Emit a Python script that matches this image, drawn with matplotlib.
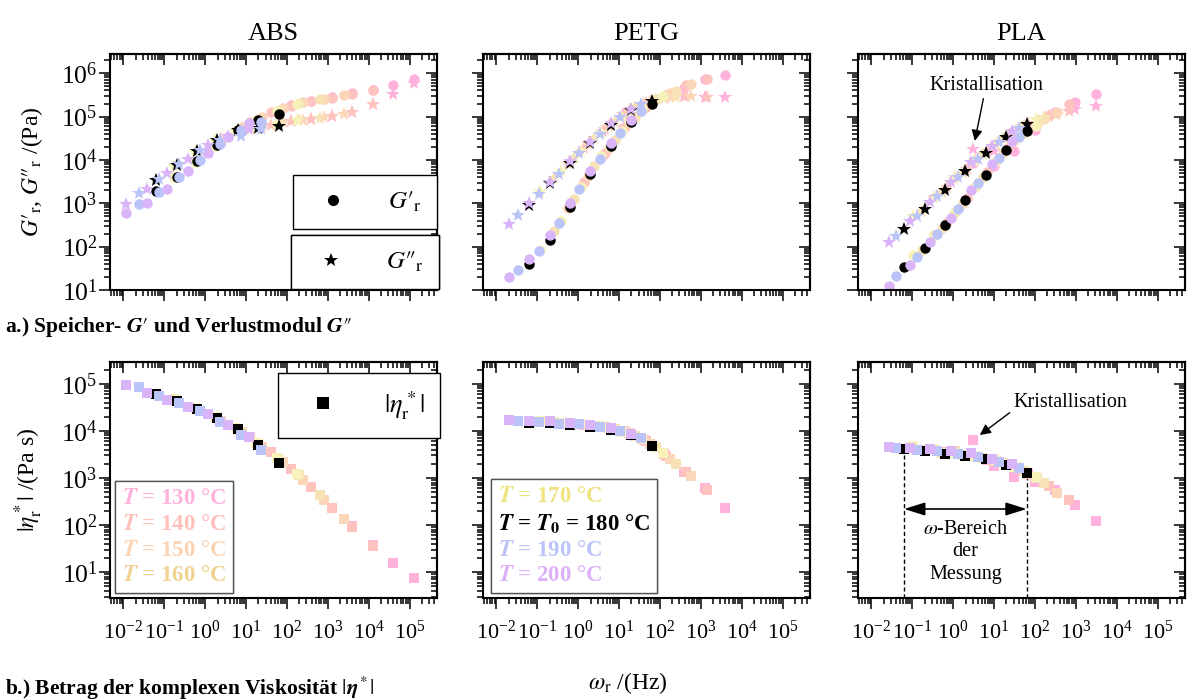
import numpy as np
import matplotlib.pyplot as plt
from matplotlib.lines import Line2D
from matplotlib.ticker import LogLocator, NullFormatter

plt.rcParams['font.family'] = ['Liberation Serif', 'DejaVu Serif']
plt.rcParams['mathtext.fontset'] = 'stix'

# measurement temperatures, T0 = 180 °C
TEMPS = [130, 140, 150, 160, 170, 180, 190, 200]
MARKER_COLORS = ['#FFB3DC', '#FFC3BF', '#FCD6B8', '#F7E2B5', '#F7F1BA', '#000000', '#BAC4F9', '#DAB4F9']
TEXT_COLORS = ['#FFB2DB', '#FFC0BC', '#FCD3B2', '#F0D291', '#EEE37E', '#000000', '#BBC3F8', '#DDB0F7']

# measured angular frequencies (2*pi * 0.01 ... 10 Hz)
OMEGA = np.array([0.0628, 0.199, 0.628, 1.99, 6.28, 19.9, 62.8])

# log10 of the shift factors a_T per temperature
ABS_LOG_AT = [3.3, 2.3, 1.6, 1.0, 0.45, 0.0, -0.43, -0.73]
PETG_LOG_AT = [1.8, 1.35, 0.95, 0.6, 0.27, 0.0, -0.27, -0.5]
PLA_LOG_AT = [1.69, 1.04, 0.74, 0.43, 0.22, 0.0, -0.19, -0.36]

# log10 of storage modulus G' (Pa), one row per temperature
ABS_LOG_GP = [
    [5.26, 5.37, 5.44, 5.54, 5.62, 5.73, 5.87],
    [4.88, 5.10, 5.25, 5.37, 5.43, 5.53, 5.61],
    [4.42, 4.76, 4.98, 5.20, 5.33, 5.41, 5.49],
    [3.97, 4.34, 4.68, 4.95, 5.14, 5.32, 5.40],
    [3.60, 3.95, 4.32, 4.67, 4.92, 5.12, 5.30],
    [3.28, 3.60, 3.97, 4.34, 4.68, 4.93, 5.06],
    [2.98, 3.27, 3.61, 4.00, 4.36, 4.68, 4.88],
    [2.77, 3.00, 3.33, 3.74, 4.15, 4.53, 4.84],
]
# log10 of loss modulus G'' (Pa)
ABS_LOG_GPP = [
    [4.90, 4.95, 5.01, 5.11, 5.30, 5.51, 5.78],
    [4.72, 4.80, 4.90, 4.95, 5.01, 5.10, 5.29],
    [4.50, 4.69, 4.76, 4.87, 4.92, 4.98, 5.06],
    [4.20, 4.47, 4.67, 4.75, 4.84, 4.92, 4.97],
    [3.87, 4.18, 4.45, 4.66, 4.74, 4.82, 4.91],
    [3.53, 3.88, 4.20, 4.47, 4.69, 4.73, 4.79],
    [3.23, 3.57, 3.90, 4.22, 4.45, 4.55, 4.72],
    [2.98, 3.32, 3.69, 4.03, 4.34, 4.55, 4.72],
]

PETG_LOG_GP = [
    [4.11, 4.74, 5.20, 5.47, 5.65, 5.86, 5.95],
    [3.48, 4.17, 4.76, 5.22, 5.50, 5.72, 5.86],
    [2.88, 3.64, 4.28, 4.86, 5.29, 5.55, 5.74],
    [2.35, 3.10, 3.85, 4.47, 5.00, 5.40, 5.60],
    [1.93, 2.60, 3.37, 4.08, 4.67, 5.17, 5.47],
    [1.59, 2.16, 2.92, 3.67, 4.31, 4.88, 5.30],
    [1.46, 1.90, 2.55, 3.32, 4.03, 4.63, 5.13],
    [1.29, 1.72, 2.26, 3.00, 3.75, 4.39, 4.92],
]
PETG_LOG_GPP = [
    [4.66, 5.05, 5.30, 5.43, 5.47, 5.46, 5.44],
    [4.27, 4.71, 5.07, 5.32, 5.44, 5.47, 5.46],
    [3.90, 4.37, 4.79, 5.14, 5.35, 5.46, 5.47],
    [3.58, 4.05, 4.50, 4.90, 5.22, 5.40, 5.46],
    [3.28, 3.74, 4.20, 4.65, 5.00, 5.30, 5.43],
    [2.97, 3.46, 3.92, 4.38, 4.80, 5.15, 5.35],
    [2.74, 3.22, 3.68, 4.16, 4.60, 4.98, 5.28],
    [2.52, 3.01, 3.50, 3.97, 4.41, 4.84, 5.17],
]

PLA_LOG_GP = [
    [3.92, 3.85, 4.20, 4.68, 5.10, 5.33, 5.52],
    [2.57, 3.13, 3.73, 4.27, 4.68, 5.03, 5.28],
    [2.27, 2.80, 3.38, 3.98, 4.48, 4.82, 5.10],
    [1.92, 2.43, 3.00, 3.60, 4.17, 4.63, 4.95],
    [1.80, 2.25, 2.78, 3.38, 3.95, 4.45, 4.78],
    [1.54, 1.98, 2.50, 3.07, 3.66, 4.22, 4.67],
    [1.32, 1.76, 2.29, 2.86, 3.47, 4.05, 4.53],
    [1.10, 1.57, 2.10, 2.67, 3.30, 3.90, 4.43],
]
PLA_LOG_GPP = [
    [4.25, 4.20, 4.45, 4.80, 5.05, 5.18, 5.24],
    [3.38, 3.80, 4.20, 4.56, 4.84, 5.02, 5.12],
    [3.15, 3.60, 4.00, 4.37, 4.70, 4.93, 5.05],
    [2.82, 3.26, 3.70, 4.13, 4.50, 4.80, 5.00],
    [2.70, 3.12, 3.55, 3.98, 4.36, 4.68, 4.95],
    [2.41, 2.86, 3.31, 3.75, 4.17, 4.53, 4.82],
    [2.25, 2.71, 3.17, 3.61, 4.03, 4.41, 4.74],
    [2.10, 2.58, 3.04, 3.50, 3.96, 4.31, 4.67],
]

MATERIALS = ['ABS', 'PETG', 'PLA']
LOG_AT = [ABS_LOG_AT, PETG_LOG_AT, PLA_LOG_AT]
LOG_GP = [ABS_LOG_GP, PETG_LOG_GP, PLA_LOG_GP]
LOG_GPP = [ABS_LOG_GPP, PETG_LOG_GPP, PLA_LOG_GPP]

XLIM = (10 ** -2.33, 10 ** 5.67)
YLIM_MOD = (10 ** 1.0, 10 ** 6.44)
YLIM_ETA = (10 ** 0.45, 10 ** 5.46)

GP_R = r"$G\prime_{\mathrm{r}}$"
GPP_R = r"$G\prime\!\prime_{\mathrm{r}}$"
ETA_R = r"$|\eta^*_{\mathrm{r}}|$"


def set_log_ticks(axis):
    axis.set_major_locator(LogLocator(base=10, numticks=20))
    axis.set_minor_locator(LogLocator(base=10, subs=np.arange(2, 10), numticks=20))
    axis.set_minor_formatter(NullFormatter())


def style_axes(ax, ylim, xlabels, ylabels):
    ax.set_xscale('log')
    ax.set_yscale('log')
    ax.set_xlim(*XLIM)
    ax.set_ylim(*ylim)
    set_log_ticks(ax.xaxis)
    set_log_ticks(ax.yaxis)
    ax.tick_params(which='both', direction='out', width=1.1)
    ax.tick_params(axis='y', pad=1, labelsize=18.5)
    ax.tick_params(axis='x', pad=8, labelsize=16)
    ax.tick_params(which='major', length=8)
    ax.tick_params(which='minor', length=4)
    ax.tick_params(labelbottom=xlabels, labelleft=ylabels)
    for sp in ax.spines.values():
        sp.set_linewidth(1.5)
    # mirrored ticks on top and right, pointing inwards
    top = ax.secondary_xaxis('top')
    right = ax.secondary_yaxis('right')
    for sec, axis in ((top, top.xaxis), (right, right.yaxis)):
        set_log_ticks(axis)
        sec.tick_params(which='both', direction='in', width=1.1, labeltop=False,
                        labelright=False, labelbottom=False, labelleft=False)
        sec.tick_params(which='major', length=8)
        sec.tick_params(which='minor', length=4)
        for sp in sec.spines.values():
            sp.set_linewidth(1.5)


fig = plt.figure(figsize=(11.89, 7.0), dpi=100)
lefts = [0.0925, 0.4062, 0.7216]
W, H = 0.2750, 0.337
axes_top = [fig.add_axes([l, 0.5857, W, H]) for l in lefts]
axes_bot = [fig.add_axes([l, 0.1457, W, H]) for l in lefts]

for m, name in enumerate(MATERIALS):
    at, at2 = axes_top[m], axes_bot[m]
    for i, temp in enumerate(TEMPS):
        w_r = OMEGA * 10.0 ** LOG_AT[m][i]
        gp = 10.0 ** np.array(LOG_GP[m][i])
        gpp = 10.0 ** np.array(LOG_GPP[m][i])
        eta = np.hypot(gp, gpp) / w_r
        c = MARKER_COLORS[i]
        at.plot(w_r, gp, ls='none', marker='o', ms=7.5, mew=0, color=c)
        at.plot(w_r, gpp, ls='none', marker='*', ms=10, mew=0, color=c)
        at2.plot(w_r, eta, ls='none', marker='s', ms=7, mew=0, color=c)
    style_axes(at, YLIM_MOD, False, m == 0)
    style_axes(at2, YLIM_ETA, True, m == 0)
    at.set_title(name, fontsize=19, pad=10)

axes_top[0].set_ylabel(GP_R + ", " + GPP_R + " /(Pa)", fontsize=17)
axes_top[0].yaxis.set_label_coords(-0.2, 0.5)
axes_bot[0].set_ylabel(ETA_R + " /(Pa s)", fontsize=17)
axes_bot[0].yaxis.set_label_coords(-0.2, 0.5)


def marker_legend(ax, marker, ms, label, anchor, fontsize, hl):
    handle = Line2D([], [], ls='none', marker=marker, ms=ms, color='black', mew=0)
    leg = ax.legend([handle], [label], loc='upper left', bbox_to_anchor=anchor,
                    borderaxespad=0, fontsize=fontsize, frameon=True, fancybox=False,
                    edgecolor='black', framealpha=1, handlelength=hl,
                    handletextpad=1.2, borderpad=0.6)
    leg.get_frame().set_linewidth(1.0)
    ax.add_artist(leg)


marker_legend(axes_top[0], 'o', 8, GP_R, (0.56, 0.487), 18, 2.0)
marker_legend(axes_top[0], '*', 10, GPP_R, (0.553, 0.233), 18, 2.0)
marker_legend(axes_bot[0], 's', 8, ETA_R, (0.514, 0.953), 19, 2.2)


def temp_legend(ax, idx, labels, anchor):
    handles = [Line2D([], [], ls='none') for _ in idx]
    leg = ax.legend(handles, labels, loc='lower left', bbox_to_anchor=anchor,
                    borderaxespad=0, prop={'size': 16.5, 'weight': 'bold'},
                    frameon=True, fancybox=False, edgecolor='#555555', framealpha=1,
                    handlelength=0, handletextpad=0, labelspacing=0.2, borderpad=0.3)
    leg.get_frame().set_linewidth(1.0)
    for txt, i in zip(leg.get_texts(), idx):
        txt.set_color(TEXT_COLORS[i])
    ax.add_artist(leg)


temp_legend(axes_bot[0], [0, 1, 2, 3],
            [r"$\mathbfit{T}$ = %d °C" % TEMPS[i] for i in range(4)], (0.015, 0.021))
temp_legend(axes_bot[1], [4, 5, 6, 7],
            [r"$\mathbfit{T}$ = 170 °C",
             r"$\mathbfit{T}$ = $\mathbfit{T}_\mathbf{0}$ = 180 °C",
             r"$\mathbfit{T}$ = 190 °C",
             r"$\mathbfit{T}$ = 200 °C"], (0.024, 0.021))

# crystallisation outlier of PLA at 130 °C
w_cr = OMEGA[0] * 10.0 ** PLA_LOG_AT[0]
gp_cr = 10.0 ** PLA_LOG_GP[0][0]
gpp_cr = 10.0 ** PLA_LOG_GPP[0][0]
eta_cr = np.hypot(gp_cr, gpp_cr) / w_cr
arrow = dict(arrowstyle='-|>', color='black', lw=1.0, mutation_scale=16, shrinkA=1, shrinkB=6)
axes_top[2].annotate('Kristallisation', xy=(w_cr, gpp_cr), xytext=(0.393, 0.869),
                     textcoords='axes fraction', ha='center', va='center', fontsize=14.5,
                     arrowprops=dict(arrow, relpos=(0.48, 0.0)))
axes_bot[2].annotate('Kristallisation', xy=(w_cr, eta_cr), xytext=(0.65, 0.83),
                     textcoords='axes fraction', ha='center', va='center', fontsize=14.5,
                     arrowprops=dict(arrow, relpos=(0.0, 0.1)))

# measured frequency window at T0
ax = axes_bot[2]
i0 = TEMPS.index(180)
gp0 = 10.0 ** np.array(PLA_LOG_GP[i0])
gpp0 = 10.0 ** np.array(PLA_LOG_GPP[i0])
eta0 = np.hypot(gp0, gpp0) / OMEGA
ax.vlines([OMEGA[0], OMEGA[-1]], YLIM_ETA[0], [eta0[0], eta0[-1]],
          colors='black', linestyles=(0, (3, 2)), lw=1.0, zorder=1)
ax.annotate('', xy=(OMEGA[-1], 219), xytext=(OMEGA[0], 219),
            arrowprops=dict(arrowstyle='<|-|>,head_length=0.8,head_width=0.25',
                            color='black', lw=1.2, mutation_scale=16, shrinkA=0, shrinkB=0))
ax.text(np.sqrt(OMEGA[0] * OMEGA[-1]), 27, "$\\omega$-Bereich\nder\nMessung",
        ha='center', va='center', fontsize=14.5, linespacing=1.25)

fig.text(5 / 1189, 1 - 327 / 700,
         r"a.) Speicher- $\mathbfit{G}\prime$ und Verlustmodul $\mathbfit{G}\prime\!\prime$",
         fontsize=15.5, fontweight='bold', va='center', ha='left')
fig.text(5 / 1189, 1 - 688 / 700,
         r"b.) Betrag der komplexen Viskosität $|\mathbfit{\eta}^*|$",
         fontsize=15.5, fontweight='bold', va='center', ha='left')
fig.text(628 / 1189, 1 - 683 / 700, r"$\omega_{\mathrm{r}}$ /(Hz)",
         fontsize=17, ha='center', va='center')

fig.savefig('out.png', dpi=100)
